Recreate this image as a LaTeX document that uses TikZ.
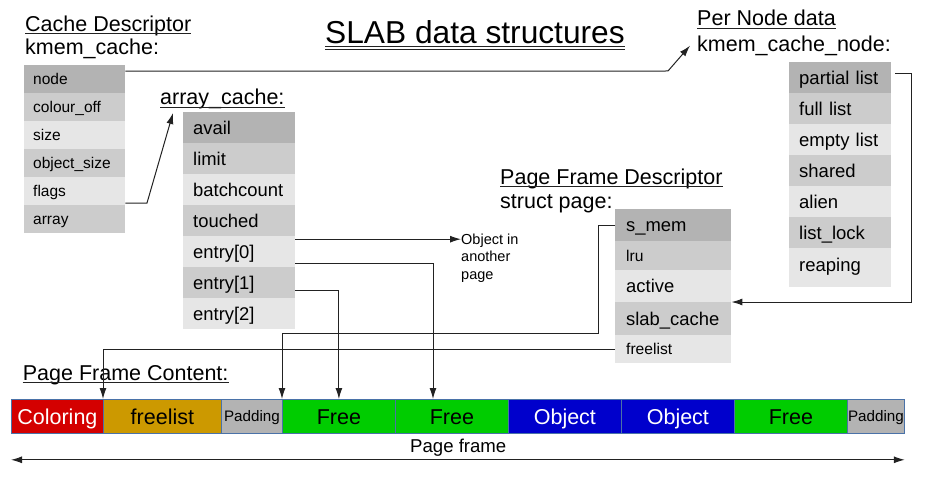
\documentclass[tikz,border=0pt]{standalone}
\usepackage{fontspec}
\setmainfont{Liberation Sans}
\usetikzlibrary{arrows.meta}
\definecolor{gdark}{HTML}{B3B3B3}
\definecolor{gmid}{HTML}{CCCCCC}
\definecolor{glight}{HTML}{E6E6E6}
\definecolor{cred}{HTML}{D40000}
\definecolor{cgold}{HTML}{CC9900}
\definecolor{cgreen}{HTML}{00CC00}
\definecolor{cblue}{HTML}{0000CC}
\definecolor{cborder}{HTML}{4A72A8}
\definecolor{lncol}{HTML}{222222}
\newcommand\myfs[1]{\fontsize{#1}{#1}\selectfont}
\begin{document}
\begin{tikzpicture}[x=1pt,y=-1pt,
  head/.style={anchor=base west, inner sep=0pt, font=\myfs{21.5}},
  ul/.style={draw=lncol, line width=0.9pt},
  rowbase/.style={anchor=north west, inner ysep=0pt, align=left, draw=none},
  kcrow/.style={rowbase, minimum width=101pt, minimum height=28pt, inner xsep=9pt, text width=83pt, font=\myfs{15.5}, text height=11.2pt, text depth=0pt},
  acrow/.style={rowbase, minimum width=112pt, minimum height=31pt, inner xsep=10pt, text width=92pt, font=\myfs{18.4}, text height=13.2pt, text depth=0pt},
  sprow/.style={rowbase, minimum width=116pt, inner xsep=11pt, text width=94pt, font=\myfs{18.4}, text height=13.2pt, text depth=0pt},
  spsmall/.style={font=\myfs{15.6}, text height=11.2pt},
  knrow/.style={rowbase, minimum width=102pt, minimum height=31pt, inner xsep=10pt, text width=82pt, font=\myfs{18.5}, text height=13.3pt, text depth=0pt},
  seg/.style={anchor=north west, draw=cborder, line width=0.8pt, minimum height=34pt, inner sep=0pt, font=\myfs{21.5}, text height=15.4pt, text depth=0pt},
  pad/.style={seg, font=\myfs{15.2}, text height=10.9pt},
  conn/.style={draw=lncol, line width=1pt, -{Latex[length=11pt,width=7pt]}},
]
\useasboundingbox (0,0) rectangle (928,492);

% Title
\node[head, font=\myfs{31.7}] (title) at (325,44) {SLAB data structures};
\draw[ul] ([yshift=-2.5pt]title.base west) -- ([yshift=-2.5pt]title.base east);
\draw[ul] ([yshift=-5pt]title.base west) -- ([yshift=-5pt]title.base east);

% Cache descriptor
\node[head] (h-cd) at (25,31.7) {Cache Descriptor};
\draw[ul] ([yshift=-2pt]h-cd.base west) -- ([yshift=-2pt]h-cd.base east);
\node[head] (h-kc) at (25,54.5) {kmem\_cache:};
\node[kcrow, fill=gdark]  (kc-node) at (24,65)  {node};
\node[kcrow, fill=gmid]   (kc-col)  at (24,93)  {colour\_off};
\node[kcrow, fill=glight] (kc-size) at (24,121) {size};
\node[kcrow, fill=gmid]   (kc-osz)  at (24,149) {object\_size};
\node[kcrow, fill=glight] (kc-flags) at (24,177) {flags};
\node[kcrow, fill=gmid]   (kc-array) at (24,205) {array};

% array_cache
\node[head] (ac-head) at (160,105) {array\_cache:};
\draw[ul] ([yshift=-2.5pt]ac-head.base west) -- ([yshift=-2.5pt]ac-head.base east);
\node[acrow, fill=gdark]  (ac-avail) at (183,112) {avail};
\node[acrow, fill=gmid]   (ac-limit) at (183,143) {limit};
\node[acrow, fill=glight] (ac-batch) at (183,174) {batchcount};
\node[acrow, fill=gmid]   (ac-touch) at (183,205) {touched};
\node[acrow, fill=glight] (ac-e0) at (183,236) {entry[0]};
\node[acrow, fill=gmid]   (ac-e1) at (183,267) {entry[1]};
\node[acrow, fill=glight] (ac-e2) at (183,298) {entry[2]};

% Object in another page
\node[anchor=west, inner sep=0pt, align=left, font=\fontsize{14.5}{17.5}\selectfont] (obj) at (461,258) {Object in\\another\\page};

% Page frame descriptor
\node[head] (h-pfd) at (500,184) {Page Frame Descriptor};
\draw[ul] ([yshift=-2.5pt]h-pfd.base west) -- ([yshift=-2.5pt]h-pfd.base east);
\node[head] (h-sp) at (500,208) {struct page:};
\node[sprow, fill=gdark, minimum height=32pt]  (sp-smem) at (615,209) {s\_mem};
\node[sprow, spsmall, fill=gmid, minimum height=29pt] (sp-lru) at (615,241) {lru};
\node[sprow, fill=glight, minimum height=32pt] (sp-active) at (615,270) {active};
\node[sprow, fill=gmid, minimum height=33pt]   (sp-slab) at (615,302) {slab\_cache};
\node[sprow, spsmall, fill=glight, minimum height=28pt] (sp-free) at (615,335) {freelist};

% Per node data
\node[head] (h-pnd) at (697,26) {Per Node data};
\draw[ul] ([yshift=-2.3pt]h-pnd.base west) -- ([yshift=-2.3pt]h-pnd.base east);
\node[head] (kcn-head) at (697,51.7) {kmem\_cache\_node:};
\node[knrow, fill=gdark]  (kn-partial) at (789,62)  {partial list};
\node[knrow, fill=gmid]   (kn-full)    at (789,93)  {full list};
\node[knrow, fill=glight] (kn-empty)   at (789,124) {empty list};
\node[knrow, fill=gmid]   (kn-shared)  at (789,155) {shared};
\node[knrow, fill=glight] (kn-alien)   at (789,186) {alien};
\node[knrow, fill=gmid]   (kn-lock)    at (789,217) {list\_lock};
\node[knrow, fill=glight, minimum height=39pt, text depth=5pt] (kn-reap) at (789,248) {reaping};

% Page frame content
\node[head] (h-pfc) at (22.7,380) {Page Frame Content:};
\draw[ul] ([yshift=-2.3pt]h-pfc.base west) -- ([yshift=-2.3pt]h-pfc.base east);

\node[seg, fill=cred, text=white, minimum width=92pt] (col) at (11,399) {Coloring};
\node[seg, fill=cgold, minimum width=118pt] (fl) at (103,399) {freelist};
\node[pad, fill=gdark, minimum width=61pt] (pad1) at (221,399) {Padding};
\node[seg, fill=cgreen, minimum width=113pt] (free1) at (282,399) {Free};
\node[seg, fill=cgreen, minimum width=113pt] (free2) at (395,399) {Free};
\node[seg, fill=cblue, text=white, minimum width=113pt] (obj1) at (508,399) {Object};
\node[seg, fill=cblue, text=white, minimum width=113pt] (obj2) at (621,399) {Object};
\node[seg, fill=cgreen, minimum width=113pt] (free3) at (734,399) {Free};
\node[pad, fill=gdark, minimum width=57pt] (pad2) at (847,399) {Padding};

\node[anchor=base west, inner sep=0pt, font=\myfs{18.6}] (pflabel) at (410,452) {Page frame};
\draw[draw=lncol, line width=1pt, {Latex[length=11pt,width=7pt]}-{Latex[length=11pt,width=7pt]}]
  ([yshift=-26pt]col.south west) -- ([yshift=-26pt]pad2.south east);

% Connectors
\coordinate (nb) at (668,71);
\draw[conn] ([yshift=8pt]kc-node.east) -- (nb) -- ([shift={(-7pt,6pt)}]kcn-head.base west);
\coordinate (ab) at (147,203);
\draw[conn] ([yshift=2pt]kc-array.north east) -- (ab) -- ([shift={(13pt,-8pt)}]ac-head.base west);
\draw[conn] ([yshift=12.5pt]ac-e0.east) -- ([yshift=12.5pt]ac-e0.east -| obj.west);
\draw[conn] ([yshift=-11.5pt]ac-e0.east) -| ([xshift=38pt]free2.north west);
\draw[conn] ([yshift=-7.5pt]ac-e1.east) -| (free1.north);
\coordinate (sb) at (598,333);
\draw[conn] (sp-smem.west) -| (sb) -| (free1.north west);
\draw[conn] (sp-free.west) -| (fl.north west);
\coordinate (rb) at (911.5,200);
\draw[conn] ([shift={(4pt,4.5pt)}]kn-partial.east) -| (rb) |- (sp-slab.north east);
\end{tikzpicture}
\end{document}
